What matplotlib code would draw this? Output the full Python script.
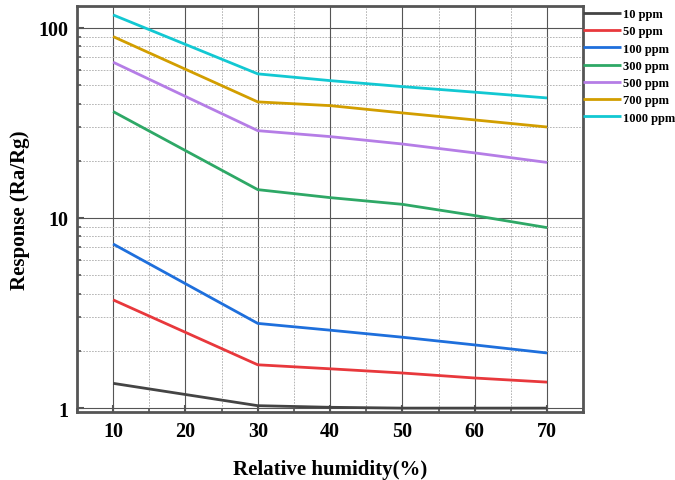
import numpy as np
import matplotlib.pyplot as plt
from matplotlib.ticker import LogLocator, NullFormatter, FixedLocator, MultipleLocator

humidity = [10, 30, 40, 50, 60, 70]
resp_10 = [1.35, 1.03, 1.01, 1.0, 1.0, 1.0]
resp_50 = [3.71, 1.69, 1.61, 1.53, 1.44, 1.37]
resp_100 = [7.3, 2.79, 2.57, 2.36, 2.15, 1.95]
resp_300 = [36.3, 14.1, 12.8, 11.8, 10.3, 8.9]
resp_500 = [66, 28.8, 26.8, 24.5, 22.0, 19.6]
resp_700 = [90, 40.8, 39.0, 35.7, 32.8, 30.1]
resp_1000 = [117, 57.3, 52.8, 49.1, 45.9, 42.8]

labels = ['10 ppm', '50 ppm', '100 ppm', '300 ppm', '500 ppm', '700 ppm', '1000 ppm']
series = [resp_10, resp_50, resp_100, resp_300, resp_500, resp_700, resp_1000]
colors = ['#444444', '#e8383c', '#1e6fdc', '#2ea866', '#b57de6', '#d29e00', '#12c8d2']

plt.rcParams['font.family'] = ['Liberation Serif', 'DejaVu Serif']
plt.rcParams['font.weight'] = 'bold'

fig = plt.figure(figsize=(6.75, 4.81), dpi=100)
ax = fig.add_axes([0.114, 0.141, 0.75, 0.844])

for ys, c, lab in zip(series, colors, labels):
    ax.plot(humidity, ys, color=c, lw=2.0, label=lab, solid_capstyle='butt')

ax.set_yscale('log')
ax.set_xlim(5, 75)
ax.set_ylim(0.952, 130)
ax.xaxis.set_major_locator(MultipleLocator(10))
ax.xaxis.set_minor_locator(MultipleLocator(5))
ax.set_xticks([10, 20, 30, 40, 50, 60, 70])
ax.yaxis.set_major_locator(FixedLocator([1, 10, 100]))
ax.yaxis.set_minor_locator(LogLocator(base=10, subs=np.arange(2, 10)))
ax.yaxis.set_minor_formatter(NullFormatter())
ax.set_yticklabels(['1', '10', '100'])

ax.grid(which='major', axis='both', color='#555555', lw=0.8)
ax.grid(which='minor', axis='both', color='#aaaaaa', lw=0.6, ls=(0, (2, 1.5)))

for s in ax.spines.values():
    s.set_color('#555555')
    s.set_linewidth(2.0)

ax.tick_params(which='major', direction='in', length=5, width=1.5, color='#555555',
               labelsize=14.5, pad=6)
ax.tick_params(which='minor', direction='in', length=3, width=1.2, color='#555555')

ax.set_xlabel('Relative humidity(%)', fontsize=15, fontweight='bold', labelpad=13)
ax.set_ylabel('Response (Ra/Rg)', fontsize=15, fontweight='bold', labelpad=6)

ax.legend(loc='upper left', bbox_to_anchor=(1.0, 0.995), frameon=False,
          borderaxespad=0, borderpad=0, handlelength=3.0, handletextpad=0.15,
          labelspacing=0.42, prop={'size': 9, 'weight': 'bold'})

fig.savefig('out.png', dpi=100)
